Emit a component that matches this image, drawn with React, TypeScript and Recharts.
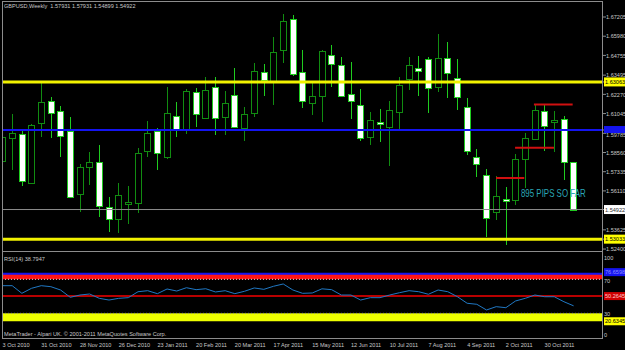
import React from 'react';
import { ComposedChart, Bar, Line, XAxis, YAxis, ReferenceLine, ReferenceArea, ReferenceDot } from 'recharts';

// weekly GBPUSD candles, 3 Oct 2010 .. 20 Nov 2011
const opens = [1.58018, 1.59485, 1.59741, 1.56614, 1.60442, 1.61846, 1.61208, 1.59932, 1.55912, 1.57635, 1.57954, 1.55083, 1.54317, 1.5537, 1.55338, 1.58656, 1.59932, 1.58273, 1.60889, 1.59996, 1.6242, 1.60761, 1.62739, 1.60825, 1.62229, 1.60123, 1.6108, 1.63696, 1.63122, 1.651, 1.67077, 1.63696, 1.61718, 1.62165, 1.64781, 1.64143, 1.62292, 1.61591, 1.59549, 1.60506, 1.60187, 1.61144, 1.63249, 1.63951, 1.64525, 1.62739, 1.64589, 1.63313, 1.61463, 1.58273, 1.57124, 1.54764, 1.55593, 1.5553, 1.58145, 1.59422, 1.61208, 1.60506, 1.60698, 1.57931];
const highs = [1.60123, 1.61017, 1.59932, 1.60379, 1.62994, 1.62101, 1.61527, 1.60825, 1.57826, 1.58592, 1.59039, 1.55721, 1.56614, 1.56423, 1.58847, 1.6057, 1.60123, 1.62739, 1.61782, 1.62611, 1.62675, 1.63377, 1.63377, 1.62484, 1.63951, 1.61463, 1.6427, 1.64206, 1.65929, 1.67396, 1.67333, 1.651, 1.62994, 1.651, 1.65419, 1.64653, 1.64334, 1.62611, 1.61144, 1.61336, 1.61846, 1.63377, 1.64653, 1.64717, 1.64653, 1.6612, 1.6561, 1.64525, 1.62037, 1.58783, 1.57507, 1.57061, 1.56359, 1.58464, 1.59805, 1.61591, 1.61591, 1.61208, 1.60889, 1.57931];
const lows = [1.57444, 1.57444, 1.56423, 1.5655, 1.59549, 1.59485, 1.58273, 1.55657, 1.54764, 1.56487, 1.54445, 1.53488, 1.53424, 1.53998, 1.547, 1.58273, 1.57444, 1.58145, 1.59549, 1.59741, 1.60187, 1.60698, 1.59677, 1.59677, 1.60123, 1.59294, 1.60825, 1.62165, 1.61591, 1.6427, 1.63441, 1.61399, 1.60953, 1.60506, 1.62739, 1.62101, 1.60698, 1.59294, 1.59039, 1.5923, 1.57699, 1.6006, 1.62548, 1.62165, 1.6108, 1.6242, 1.62037, 1.61272, 1.58401, 1.56997, 1.53169, 1.54253, 1.52659, 1.55211, 1.56295, 1.59358, 1.58656, 1.58592, 1.56805, 1.54899];
const closes = [1.59549, 1.59805, 1.56742, 1.60315, 1.61782, 1.6108, 1.59613, 1.55721, 1.57635, 1.57954, 1.55147, 1.54317, 1.55849, 1.55402, 1.58528, 1.59805, 1.58528, 1.6108, 1.59996, 1.62484, 1.61017, 1.62548, 1.60761, 1.61718, 1.60187, 1.61017, 1.6376, 1.63185, 1.64972, 1.6695, 1.63568, 1.61846, 1.62165, 1.65036, 1.64206, 1.62165, 1.61846, 1.59485, 1.60634, 1.60474, 1.61272, 1.62867, 1.64143, 1.6376, 1.62675, 1.64589, 1.63632, 1.62101, 1.58656, 1.57826, 1.54381, 1.55785, 1.55562, 1.58145, 1.59485, 1.61272, 1.60251, 1.60634, 1.57954, 1.54922];
const rsiValues = [62.5, 62.5, 53.5, 59.4, 62.5, 61.3, 57.4, 48.8, 51.5, 52.7, 47.6, 45.6, 47.6, 48.4, 55.4, 56.6, 53.1, 58.6, 56.2, 60.1, 57.8, 58.9, 55.1, 56.6, 53.1, 55.9, 59.8, 58.2, 61.8, 64.5, 57.4, 53.5, 53.9, 58.8, 57.8, 51.5, 51.5, 45.6, 48.4, 48.4, 51.5, 54.2, 56.6, 55.4, 52.4, 57.4, 55.4, 49.5, 41.8, 40.6, 33.9, 37.8, 36.6, 44.5, 47.6, 51.5, 49.5, 49.5, 43.6, 38.79];

const dateTicks = [0, 4, 8, 12, 16, 20, 24, 28, 32, 36, 40, 44, 48, 52, 56];
const dateLabels = ['3 Oct 2010', '31 Oct 2010', '28 Nov 2010', '26 Dec 2010', '23 Jan 2011', '20 Feb 2011', '20 Mar 2011', '17 Apr 2011', '15 May 2011', '12 Jun 2011', '10 Jul 2011', '7 Aug 2011', '4 Sep 2011', '2 Oct 2011', '30 Oct 2011'];
const priceTicks = [1.67205, 1.6598, 1.64755, 1.63495, 1.6227, 1.61045, 1.59785, 1.5856, 1.57335, 1.5611, 1.53625, 1.524];

// horizontal levels
const yellowLevels = [1.63063, 1.53033];
const blueLevel = 1.59995;
const lastClose = 1.54922;

// red marker segments: [from, to, price]
const redSegments = [[54.9, 58.9, 1.61622], [52.95, 56.97, 1.58866], [50.98, 53.9, 1.56933]];
const pipsNote = { idx: 53.56, price: 1.55976, text: '895 PIPS SO FAR' };

// RSI levels
const rsiTicks = [100, 70, 30, 0];
const rsiBlue = 76.6598;
const rsiRed = 50.2645;
const rsiYellow = 20.6345;

const X_MIN = -0.052;
const X_MAX = X_MIN + 601 / 9.68;
const PRICE_MIN = 1.52276;
const PRICE_MAX = 1.68226;

const FONT = "'Liberation Sans', Arial, sans-serif";
const BULL = '#118c11';
const BEAR = '#1fcc1f';
const YELLOW = '#f2f200';
const BLUE = '#1414f0';
const GRAY = '#8c8c8c';

const candles = opens.map((o, i) => ({
  idx: i,
  open: o,
  high: highs[i],
  low: lows[i],
  close: closes[i],
  range: [lows[i], highs[i]],
  rsi: rsiValues[i],
}));

const Candle = (props: any) => {
  const { x, y, width, height, payload } = props;
  if (!payload || x == null || y == null) return null;
  const top = Math.min(y, y + height);
  const h = Math.abs(height);
  const { open, close, high, low } = payload;
  const k = high - low === 0 ? 0 : h / (high - low);
  const py = (p: number) => top + (high - p) * k;
  const cx = Math.round(x + width / 2) + 0.5;
  const bull = close > open;
  const stroke = bull ? BULL : BEAR;
  const bTop = Math.round(py(Math.max(open, close))) + 0.5;
  let bBot = Math.round(py(Math.min(open, close))) + 0.5;
  if (bBot - bTop < 2) bBot = bTop + 2;
  return (
    <g>
      <line x1={cx} x2={cx} y1={top} y2={top + h} stroke={stroke} strokeWidth={1} />
      <rect x={cx - 3} y={bTop} width={6} height={bBot - bTop} fill={bull ? '#000' : '#fff'} stroke={stroke} strokeWidth={1} />
    </g>
  );
};

const SmallText = ({ x, y, fill, children }: any) => (
  <g transform={`translate(${x},${y})`}>
    <text x={0} y={2.2} transform="scale(0.9,1)" fontSize={6.2} fontFamily={FONT} fill={fill}>{children}</text>
  </g>
);

const priceBox = (v: number) => {
  if (yellowLevels.includes(v)) return { bg: '#ffff00', fg: '#000' };
  if (v === lastClose) return { bg: '#ffffff', fg: '#333' };
  return null;
};

const PriceTick = (props: any) => {
  const { x, y, payload } = props;
  const v = payload.value;
  if (v === blueLevel) {
    // blue line marker: the price inside it is not readable
    return <rect x={x - 2} y={y - 4} width={22} height={7} fill={BLUE} />;
  }
  const box = priceBox(v);
  if (box) {
    return (
      <g>
        <rect x={x - 2} y={y - 4.5} width={22} height={9} fill={box.bg} />
        <SmallText x={x - 1} y={y} fill={box.fg}>{v.toFixed(5)}</SmallText>
      </g>
    );
  }
  return <SmallText x={x} y={y + (v === 1.59785 ? 1 : 0)} fill="#c8c8c8">{v.toFixed(5)}</SmallText>;
};

const rsiBox = (v: number) => {
  if (v === rsiBlue) return { bg: BLUE, fg: '#8c8cff' };
  if (v === rsiRed) return { bg: '#d00000', fg: '#ffc8c8' };
  if (v === rsiYellow) return { bg: '#ffff00', fg: '#000' };
  return null;
};

const RsiTick = (props: any) => {
  const { x, y, payload } = props;
  const v = payload.value;
  const box = rsiBox(v);
  if (box) {
    const dy = v === rsiBlue ? -1.5 : 0;
    return (
      <g>
        <rect x={x - 2} y={y - 4 + dy} width={22} height={8} fill={box.bg} />
        <SmallText x={x - 1} y={y + dy} fill={box.fg}>{v.toFixed(4)}</SmallText>
      </g>
    );
  }
  const shift = v === 100 ? 3.5 : v === 0 ? -4 : v === 70 ? 1 : 0;
  return <SmallText x={x - 2} y={y + shift} fill="#c8c8c8">{String(v)}</SmallText>;
};

const DateTick = (props: any) => {
  const { x, y, payload } = props;
  const label = dateLabels[dateTicks.indexOf(payload.value)];
  return <SmallText x={x} y={y + 5.5} fill="#c8c8c8">{label}</SmallText>;
};

const PipsLabel = (props: any) => {
  const vb = props.viewBox || {};
  const x = (vb.x ?? 0) + (vb.width ?? 0) / 2;
  const y = (vb.y ?? 0) + (vb.height ?? 0) / 2;
  return (
    <g transform={`translate(${x},${y})`}>
      <text x={0} y={4} transform="scale(0.72,1)" fontSize={11} fontFamily={FONT} fill="#2aa6b6">{pipsNote.text}</text>
    </g>
  );
};

const overlayText = (top: number, text: string) => (
  <div
    style={{
      position: 'absolute', left: 4, top: top - 4, fontFamily: FONT, fontSize: 6.2, lineHeight: '8px',
      color: '#c8c8c8', whiteSpace: 'pre', transform: 'scaleX(0.9)', transformOrigin: 'left center', pointerEvents: 'none',
    }}
  >
    {text}
  </div>
);

export default function App() {
  return (
    <div style={{ position: 'absolute', left: 0, top: 0, width: 625, height: 350, background: '#000', overflow: 'hidden' }}>
      <div style={{ position: 'absolute', left: 0, top: 0 }}>
        <ComposedChart width={625} height={252} data={candles} margin={{ top: 1, right: 0, bottom: 1, left: 2 }}>
          <XAxis dataKey="idx" type="number" domain={[X_MIN, X_MAX]} allowDataOverflow hide />
          <YAxis
            orientation="right"
            type="number"
            domain={[PRICE_MIN, PRICE_MAX]}
            allowDataOverflow
            ticks={[...priceTicks, ...yellowLevels, blueLevel, lastClose]}
            interval={0}
            width={22}
            axisLine={false}
            tickLine={{ stroke: GRAY }}
            tickSize={3}
            tickMargin={0}
            tick={<PriceTick />}
          />
          <Bar dataKey="range" barSize={7} shape={<Candle />} isAnimationActive={false} />
          <ReferenceLine y={lastClose} stroke={GRAY} strokeWidth={1} />
          <ReferenceLine y={blueLevel} stroke={BLUE} strokeWidth={2} />
          {yellowLevels.map((lv) => (
            <ReferenceLine key={lv} y={lv} stroke={YELLOW} strokeWidth={3} />
          ))}
          {redSegments.map(([a, b, p], i) => (
            <ReferenceLine key={i} segment={[{ x: a, y: p }, { x: b, y: p }]} stroke="#d01010" strokeWidth={2} />
          ))}
          <ReferenceDot x={pipsNote.idx} y={pipsNote.price} r={0} stroke="none" fill="none" label={<PipsLabel />} />
        </ComposedChart>
      </div>
      <div style={{ position: 'absolute', left: 0, top: 252 }}>
        <ComposedChart width={625} height={98} data={candles} margin={{ top: 1.8, right: 0, bottom: 0, left: 2 }}>
          <XAxis
            dataKey="idx"
            type="number"
            domain={[X_MIN, X_MAX]}
            allowDataOverflow
            ticks={dateTicks}
            interval={0}
            height={11.2}
            axisLine={false}
            tickLine={false}
            tickSize={0}
            tickMargin={0}
            tick={<DateTick />}
          />
          <YAxis
            orientation="right"
            type="number"
            domain={[0, 100]}
            allowDataOverflow
            ticks={[...rsiTicks, rsiBlue, rsiRed, rsiYellow]}
            interval={0}
            width={22}
            axisLine={false}
            tickLine={false}
            tickSize={3}
            tickMargin={0}
            tick={<RsiTick />}
          />
          <ReferenceArea y1={70} y2={rsiBlue} fill="#ff1414" fillOpacity={1} stroke="none" />
          <ReferenceArea y1={rsiYellow} y2={30} fill="#eeff00" fillOpacity={1} stroke="none" />
          <ReferenceLine y={rsiBlue} stroke={BLUE} strokeWidth={2} />
          <ReferenceLine y={70} stroke="#e0e0e0" strokeDasharray="1 2" />
          <ReferenceLine y={rsiRed} stroke="#b80000" strokeWidth={2} />
          <ReferenceLine y={30} stroke={GRAY} strokeDasharray="1 2" />
          <Line dataKey="rsi" type="linear" stroke="#2078c4" strokeWidth={1} dot={false} isAnimationActive={false} />
        </ComposedChart>
      </div>
      <div style={{ position: 'absolute', left: 2, top: 1, width: 601, height: 338, border: `1px solid ${GRAY}`, boxSizing: 'border-box', pointerEvents: 'none' }} />
      <div style={{ position: 'absolute', left: 2, top: 251, width: 601, height: 1, background: GRAY, pointerEvents: 'none' }} />
      {overlayText(6, 'GBPUSD,Weekly  1.57931 1.57931 1.54899 1.54922')}
      {overlayText(259, 'RSI(14) 38.7947')}
      {overlayText(334, 'MetaTrader - Alpari UK. \u00a9 2001-2011 MetaQuotes Software Corp.')}
    </div>
  );
}
